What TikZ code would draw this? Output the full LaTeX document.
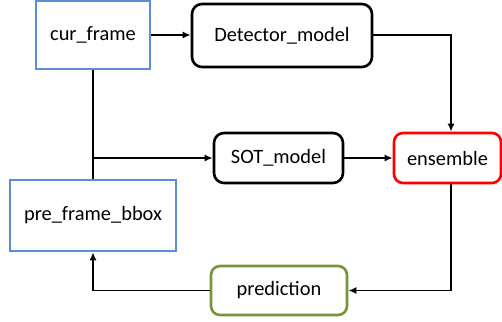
\documentclass[tikz,border=0pt]{standalone}
\usepackage{fontspec}
\setmainfont{Carlito}
\usetikzlibrary{arrows.meta,calc}
\definecolor{boxblue}{RGB}{91,142,214}
\definecolor{boxgreen}{RGB}{119,147,60}
\begin{document}
\begin{tikzpicture}[x=1pt,y=-1pt,
  every node/.style={font=\fontsize{20.4}{24}\selectfont, inner sep=0pt, align=center},
  sqbox/.style={draw=boxblue, line width=2.5pt, fill=white},
  rbox/.style={draw=black, line width=2.6pt, rounded corners=10pt, fill=white},
  redbox/.style={draw=red, line width=2.6pt, rounded corners=9pt, fill=white},
  greenbox/.style={draw=boxgreen, line width=2.6pt, rounded corners=9pt, fill=white},
  conn/.style={draw=black, line width=1.7pt},
  arr/.style={conn, -{Latex[length=8pt,width=7pt]}}]
\useasboundingbox (0,0) rectangle (502,321);
\node[sqbox, minimum width=114pt, minimum height=68pt] (cur) at (93,35) {cur\_frame};
\node[rbox, minimum width=180pt, minimum height=63pt] (det) at (282,35.5) {Detector\_model};
\node[rbox, minimum width=129pt, minimum height=50pt] (sot) at (278.5,158) {SOT\_model};
\node[redbox, minimum width=107pt, minimum height=50pt] (ens) at (447.5,158) {ensemble};
\node[sqbox, minimum width=166pt, minimum height=71pt] (pre) at (93,215.5) {pre\_frame\_bbox};
\node[greenbox, minimum width=136pt, minimum height=49pt] (pred) at (279,290.5) {prediction};
\coordinate (ensin) at ($(ens.north)+(3.5,0)$);
\coordinate (ensout) at ($(ens.south)+(3.5,0)$);
\coordinate (branch) at (cur.south |- sot.west);
\draw[arr] (cur.east) -- (det.west |- cur.east);
\draw[arr] (det.east |- cur.east) -| (ensin);
\draw[conn] (cur.south) -- (pre.north);
\draw[arr] (branch) -- (sot.west);
\draw[arr] (sot.east) -- (ens.west);
\draw[arr] (ensout) |- (pred.east);
\draw[arr] (pred.west) -| (pre.south);
\end{tikzpicture}
\end{document}
